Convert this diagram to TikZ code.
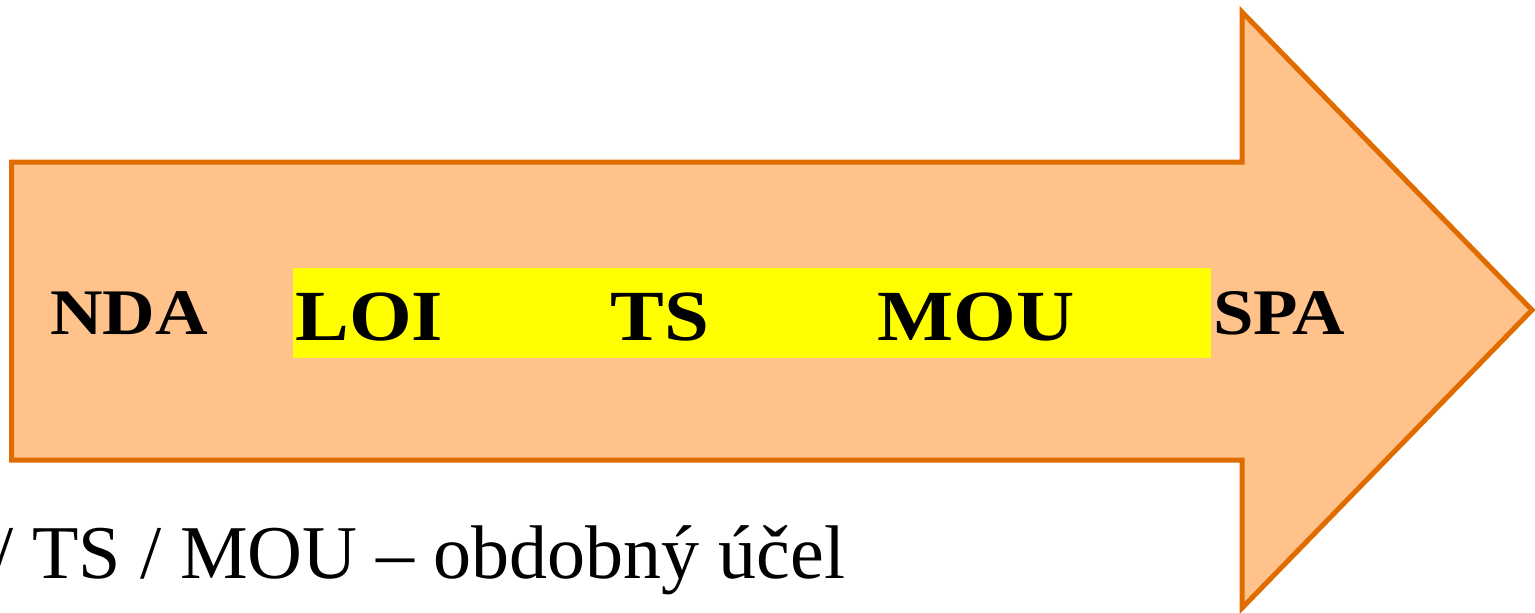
\documentclass[tikz,border=0pt]{standalone}
\usepackage{fontspec}
\setmainfont{Liberation Serif}
\newfontfamily\stagefont[FakeStretch=1.12]{Liberation Serif Bold}
\usepackage{xcolor}
\usetikzlibrary{calc}

\definecolor{peach}{RGB}{255,194,138}
\definecolor{rust}{RGB}{224,108,0}
\definecolor{marker}{RGB}{255,255,0}

\begin{document}
\begin{tikzpicture}[x=0.5pt, y=-0.5pt, every text node part/.style={align=center},
  stage/.style={anchor=base west, inner sep=0pt, font=\stagefont\fontsize{32.5}{36}\selectfont},
  bigstage/.style={stage, font=\stagefont\fontsize{36}{40}\selectfont}]

  \useasboundingbox (0,0) rectangle (1535,612);

  % Arrow
  \draw[line width=2.5pt, draw=rust, fill=peach, line join=miter]
    (11.5,162) -- (1242,162) -- (1242,12) -- (1532,310) -- (1242,608)
    -- (1242,460) -- (11.5,460) -- cycle;

  % Highlight
  \fill[marker] (293,268) rectangle (1211,358);

  % Stages
  \node[stage] (nda) at (50,334) {NDA};
  \node[bigstage] (loi) at (295,340) {LOI};
  \node[bigstage] (ts) at (610,340) {TS};
  \node[bigstage] (mou) at (877,340) {MOU};
  \node[stage] (spa) at (1213,334) {SPA};

  \node[anchor=base west, inner sep=0pt, font=\fontsize{38}{42}\selectfont] (note) at (-8,578) {/ TS / MOU -- obdobný účel};

\end{tikzpicture}
\end{document}
